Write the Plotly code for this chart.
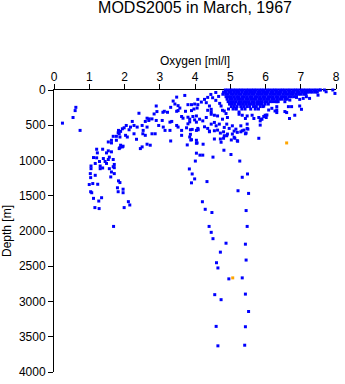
import plotly.graph_objects as go

# Dense near-surface casts: oxygen readings (ml/l) grouped by depth level (m)
surface_levels = [0, 30, 60, 95, 130, 165, 200, 235, 270]
surface_oxygen = [
    [4.86, 4.93, 5.01, 5.08, 5.15, 5.23, 5.30, 5.37, 5.45, 5.52, 5.60, 5.67, 5.74,
     5.82, 5.89, 5.96, 6.04, 6.11, 6.19, 6.26, 6.33, 6.41, 6.48, 6.55, 6.63, 6.70,
     6.78, 6.85, 6.92, 7.00, 7.07, 7.14, 7.22, 7.29, 7.37, 7.44, 7.52, 7.56],
    [4.81, 4.88, 4.96, 5.03, 5.11, 5.18, 5.25, 5.33, 5.41, 5.48, 5.55, 5.63, 5.70,
     5.78, 5.85, 5.92, 6.00, 6.07, 6.15, 6.22, 6.30, 6.37, 6.44, 6.52, 6.59, 6.67,
     6.74, 6.81, 6.89, 6.96, 7.04, 7.11, 7.19, 7.26, 7.33, 7.41, 7.47],
    [4.79, 4.87, 4.94, 5.02, 5.09, 5.17, 5.24, 5.31, 5.39, 5.46, 5.54, 5.61, 5.68,
     5.76, 5.83, 5.91, 5.98, 6.05, 6.13, 6.20, 6.28, 6.35, 6.42, 6.50, 6.57, 6.65,
     6.72, 6.79, 6.87, 6.94, 7.01, 7.09, 7.15],
    [4.88, 4.95, 5.03, 5.10, 5.18, 5.25, 5.33, 5.40, 5.47, 5.55, 5.62, 5.70, 5.77,
     5.84, 5.92, 5.99, 6.07, 6.14, 6.21, 6.29, 6.36, 6.44, 6.51, 6.58, 6.66, 6.73,
     6.80, 6.88],
    [4.91, 4.99, 5.06, 5.14, 5.21, 5.29, 5.36, 5.44, 5.51, 5.58, 5.66, 5.73, 5.81,
     5.88, 5.95, 6.03, 6.10, 6.18, 6.25, 6.33, 6.40, 6.47, 6.56, 6.62],
    [4.94, 5.01, 5.09, 5.16, 5.24, 5.31, 5.38, 5.46, 5.53, 5.61, 5.68, 5.76, 5.83,
     5.90, 5.98, 6.05, 6.13, 6.20, 6.28, 6.36],
    [4.98, 5.06, 5.13, 5.22, 5.29, 5.37, 5.44, 5.52, 5.60, 5.67, 5.75, 5.83, 5.90,
     5.99, 6.08],
    [5.03, 5.11, 5.19, 5.30, 5.38, 5.47, 5.55, 5.66, 5.74, 5.85, 5.93],
    [4.95, 5.08, 5.17, 5.33, 5.42, 5.58, 5.71, 5.80],
]

# Scattered upper-ocean observations (oxygen ml/l, depth m)
upper_obs = [
    (3.71, 77), (3.48, 101), (3.38, 157), (3.43, 199), (3.52, 222), (3.57, 256),
    (3.80, 208), (3.90, 208), (3.99, 199), (4.08, 208), (4.06, 256), (2.90, 227),
    (3.31, 246), (3.73, 302), (3.90, 292), (3.97, 270), (2.92, 306), (3.09, 316),
    (3.13, 302), (3.22, 316), (3.48, 302), (3.52, 292), (2.41, 330), (2.84, 340),
    (2.64, 400), (2.70, 410), (2.78, 410), (2.69, 432), (2.59, 446), (2.90, 432),
    (3.07, 432), (3.29, 456), (3.34, 446), (3.62, 376), (3.66, 400), (3.80, 386),
    (3.85, 414), (3.99, 424), (4.04, 456), (2.22, 446), (2.05, 503), (1.99, 536),
    (2.17, 526), (2.13, 564), (2.27, 503), (2.36, 526), (2.50, 503), (2.53, 573),
    (2.64, 526), (2.97, 503), (3.10, 526), (3.15, 573), (3.29, 573), (3.48, 503),
    (3.52, 526), (3.62, 573), (3.76, 536), (3.80, 480), (3.92, 559), (4.04, 573),
    (1.89, 587), (1.85, 621), (2.03, 643), (2.08, 667), (2.27, 621), (2.34, 699),
    (2.52, 621), (2.59, 643), (2.78, 621), (2.87, 621), (2.64, 769), (2.73, 783),
    (3.31, 723), (3.62, 643), (3.85, 667), (4.04, 713), (4.06, 751), (2.50, 807),
    (2.45, 831), (1.89, 783), (1.94, 807), (1.85, 831),
    (4.45, 63), (4.50, 110), (4.27, 133), (4.32, 180), (4.18, 171), (4.41, 227),
    (4.46, 274), (4.74, 227), (4.83, 298), (4.59, 35), (4.67, 91), (4.36, 105),
    (4.08, 133), (4.59, 147), (4.70, 190), (4.36, 288), (4.46, 312), (4.55, 358),
    (4.78, 288), (4.88, 334), (5.16, 264), (5.25, 312), (5.34, 358), (5.43, 404),
    (5.62, 358), (4.08, 545), (4.27, 522), (4.36, 545), (4.64, 569), (4.97, 545),
    (5.39, 569), (6.83, 358), (6.68, 404), (7.02, 274), (6.97, 227), (6.55, 306),
    (6.60, 320), (6.32, 320), (6.27, 298), (6.02, 390), (5.85, 438), (5.85, 498),
    (5.48, 484), (5.48, 545), (5.30, 508), (5.34, 578), (5.16, 555), (5.20, 601),
    (5.06, 508), (4.90, 484), (4.83, 531), (4.69, 484), (4.60, 508), (4.55, 460),
    (4.46, 484), (4.41, 592), (4.55, 578), (4.72, 611), (4.83, 649), (4.92, 625),
    (5.06, 625), (5.13, 685), (5.20, 719), (5.81, 685), (5.45, 611), (5.50, 555),
    (5.25, 344), (5.48, 368), (5.67, 404), (5.81, 390), (5.90, 414), (5.99, 358),
    (4.78, 414), (4.92, 390), (4.64, 368), (4.46, 344), (4.32, 390), (4.22, 438),
    (4.13, 414), (4.04, 368), (3.94, 376), (3.85, 452), (3.88, 709), (3.78, 779),
    (7.67, 0), (7.72, 25), (7.91, 0), (7.97, 49), (7.49, 73), (7.25, 119),
    (7.16, 95), (7.07, 119), (6.97, 133), (6.88, 105), (6.69, 143), (6.55, 166),
    (6.46, 119), (6.65, 236), (6.74, 236), (6.32, 236), (6.32, 284), (6.18, 260),
    (6.09, 284), (6.04, 354), (5.95, 376), (5.87, 414), (6.32, 166), (5.95, 227),
    (3.87, 564), (4.09, 564), (4.41, 583), (4.81, 593), (5.11, 583), (5.30, 593),
    (5.43, 621), (3.87, 629),
]

# Intermediate-depth observations
middle_obs = [
    (3.90, 705), (4.55, 695), (4.72, 695), (4.81, 685), (4.90, 649), (5.03, 709),
    (5.11, 671), (5.21, 727), (4.04, 755), (4.23, 769), (4.74, 741), (4.82, 854),
    (4.04, 896), (4.14, 924), (4.22, 924), (4.51, 952), (5.02, 915), (5.27, 1008),
    (4.01, 1008), (3.84, 1120), (3.92, 1191), (5.49, 1191), (3.99, 1261),
    (5.34, 1238), (3.90, 1317), (4.34, 1299), (5.22, 1429), (5.52, 1467),
    (4.21, 1585), (4.29, 1692), (5.45, 1710), (4.48, 1738),
]

# Low-oxygen branch (oxygen minimum layer)
low_obs = [
    (0.24, 470), (0.62, 246), (0.60, 292), (0.54, 390), (0.74, 573), (1.83, 573),
    (1.94, 550), (1.82, 607), (1.68, 657), (1.77, 657), (1.87, 667), (1.63, 713),
    (1.77, 713), (1.54, 737), (1.63, 751), (1.96, 797), (1.87, 817), (1.21, 840),
    (1.38, 840), (1.54, 863), (1.63, 877), (1.49, 892), (1.23, 892), (1.12, 958),
    (1.21, 962), (1.40, 972), (1.54, 986), (1.68, 986), (1.17, 1042), (1.05, 1078),
    (1.31, 1078), (1.49, 1042), (1.68, 1088), (1.05, 1116), (1.38, 1106),
    (1.71, 1102), (1.03, 1186), (1.17, 1210), (1.63, 1163), (1.71, 1186),
    (1.04, 1243), (1.61, 1233), (1.83, 1289), (1.87, 1313), (1.00, 1341),
    (1.10, 1327), (1.24, 1337), (1.80, 1387), (1.96, 1407), (1.04, 1443),
    (1.07, 1457), (1.82, 1443), (1.96, 1457), (1.12, 1537), (1.35, 1528),
    (1.27, 1575), (1.16, 1668), (1.28, 1682), (1.99, 1668), (2.11, 1584),
    (2.15, 1631), (1.57, 952), (1.71, 1056), (1.57, 1116), (1.45, 1014),
    (1.29, 1014), (1.31, 1116),
]

# Deep observations
deep_obs = [
    (1.69, 1935), (4.40, 1935), (5.48, 1935), (4.46, 2019), (4.51, 2109),
    (4.88, 2173), (5.43, 2187), (4.72, 2300), (5.45, 2412), (4.61, 2450),
    (4.65, 2524), (4.96, 2679), (5.34, 2665), (4.56, 2903), (5.43, 2895),
    (4.74, 2974), (5.52, 3142), (4.60, 3353), (5.43, 3358), (4.65, 3629),
    (5.41, 3620),
]

# Flagged observations
flag_oxygen = [6.60, 5.07]
flag_depth = [751, 2665]

ox, dep = [], []
for level, row in zip(surface_levels, surface_oxygen):
    for o in row:
        ox.append(o)
        dep.append(level)
for group in (upper_obs, middle_obs, low_obs, deep_obs):
    for o, d in group:
        ox.append(o)
        dep.append(d)

fig = go.Figure()
fig.add_trace(go.Scatter(
    x=ox, y=dep, mode="markers", cliponaxis=False,
    marker=dict(symbol="square", size=3, color="#0000ff", line=dict(width=0)),
    hoverinfo="skip",
))
fig.add_trace(go.Scatter(
    x=flag_oxygen, y=flag_depth, mode="markers", cliponaxis=False,
    marker=dict(symbol="square", size=3, color="#ffa500", line=dict(width=0)),
    hoverinfo="skip",
))

axis_style = dict(
    showline=True, linecolor="black", linewidth=1,
    ticks="outside", ticklen=5, tickwidth=1, tickcolor="black",
    showgrid=False, zeroline=False, layer="below traces",
    tickfont=dict(size=12, color="black"),
)

fig.update_layout(
    width=345, height=384,
    margin=dict(l=54, r=5, t=90, b=9),
    paper_bgcolor="white", plot_bgcolor="white",
    showlegend=False,
    font=dict(family="Liberation Sans, Arial, sans-serif", size=12, color="black"),
    title=dict(
        text="MODS2005 in March, 1967",
        font=dict(size=16, color="black"),
        xref="paper", x=0.5, xanchor="center",
        yref="container", y=1 - 7.5 / 384, yanchor="middle",
    ),
    xaxis=dict(
        side="top", range=[0, 8], tick0=0, dtick=1,
        ticklabelstandoff=-2,
        **axis_style,
    ),
    yaxis=dict(
        range=[4000, 0], tick0=0, dtick=500,
        title=dict(text="Depth [m]", standoff=4, font=dict(size=12)),
        **axis_style,
    ),
    annotations=[
        dict(
            text="Oxygen [ml/l]", xref="paper", yref="paper",
            x=0.5, y=1, yshift=29, xanchor="center", yanchor="middle",
            showarrow=False, font=dict(size=12, color="black"),
        ),
    ],
)

fig.write_html("out.html")
